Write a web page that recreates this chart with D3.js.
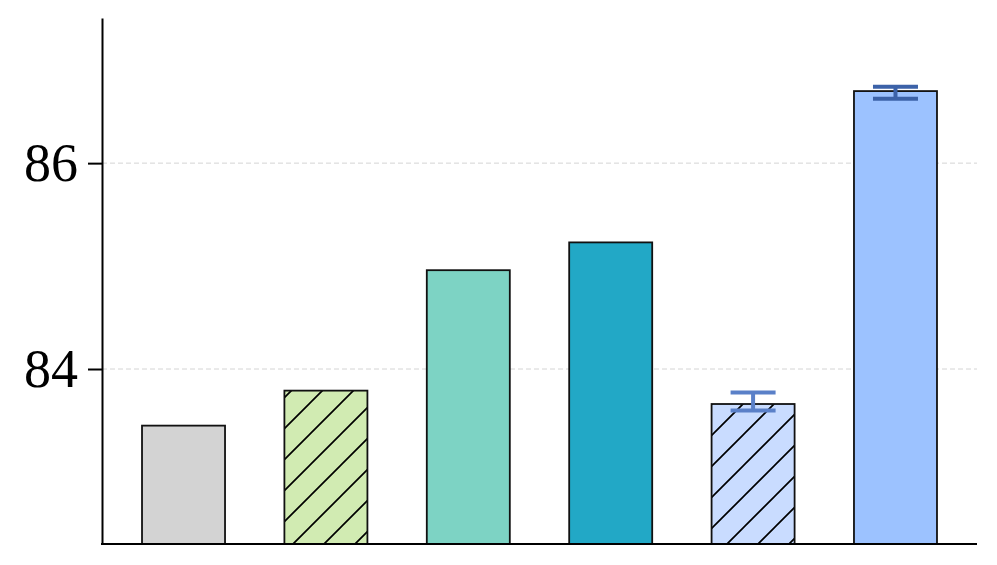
<!DOCTYPE html>
<html>
<head>
<meta charset="utf-8">
<script src="https://cdn.jsdelivr.net/npm/d3@7"></script>
<style>
  body { margin: 0; background: #fff; }
  svg { display: block; }
</style>
</head>
<body>
<div id="vis"></div>
<script>
const width = 997, height = 565;
const margin = { top: 18, right: 20, bottom: 21, left: 102 };

// Chart data
const categories = ["A", "B", "C", "D", "E", "F"];
const values = [83.45, 83.79, 84.96, 85.23, 83.66, 86.70];
const errLow = [null, null, null, null, 83.597, 86.626];
const errHigh = [null, null, null, null, 83.772, 86.743];
const fills = ["#d3d3d3", "#d1ebb2", "#7dd3c4", "#22a8c6", "#c9dcff", "#9cc2ff"];
const hatched = [false, true, false, false, true, false];
const errColors = [null, null, null, null, "#5a80c8", "#3c62a8"];
const yTicks = [84, 86];
const yDomain = [82.30, 87.41];

const svg = d3.select("#vis").append("svg")
  .attr("width", width)
  .attr("height", height);

// Hatch pattern
const defs = svg.append("defs");
defs.append("pattern")
  .attr("id", "hatch")
  .attr("patternUnits", "userSpaceOnUse")
  .attr("width", 31)
  .attr("height", 31)
  .append("path")
  .attr("d", "M-8,8 L8,-8 M0,31 L31,0 M23,39 L39,23")
  .attr("stroke", "#000")
  .attr("stroke-width", 1.7);

const x = d3.scaleBand()
  .domain(categories)
  .range([margin.left, width - margin.right])
  .paddingInner(0.417)
  .paddingOuter(0.281);

const y = d3.scaleLinear()
  .domain(yDomain)
  .range([height - margin.bottom, margin.top]);

// Grid lines
svg.append("g")
  .selectAll("line")
  .data(yTicks)
  .join("line")
  .attr("x1", margin.left)
  .attr("x2", width - margin.right)
  .attr("y1", d => y(d))
  .attr("y2", d => y(d))
  .attr("stroke", "#d4d4d4")
  .attr("stroke-width", 1)
  .attr("stroke-dasharray", "5,3");

const data = categories.map((c, i) => ({
  c, v: values[i], lo: errLow[i], hi: errHigh[i], fill: fills[i], hatch: hatched[i], ec: errColors[i]
}));

const bars = svg.append("g");
const barRect = sel => sel
  .attr("x", d => x(d.c))
  .attr("width", x.bandwidth())
  .attr("y", d => y(d.v))
  .attr("height", d => y(yDomain[0]) - y(d.v));

bars.selectAll("rect.bar")
  .data(data)
  .join("rect")
  .attr("class", "bar")
  .call(barRect)
  .attr("fill", d => d.fill);

bars.selectAll("rect.hatch")
  .data(data.filter(d => d.hatch))
  .join("rect")
  .attr("class", "hatch")
  .call(barRect)
  .attr("fill", "url(#hatch)");

bars.selectAll("rect.outline")
  .data(data)
  .join("rect")
  .attr("class", "outline")
  .call(barRect)
  .attr("fill", "none")
  .attr("stroke", "#111")
  .attr("stroke-width", 1.8);

// Error bars
const err = svg.append("g").selectAll("g")
  .data(data.filter(d => d.lo != null))
  .join("g")
  .attr("stroke", d => d.ec)
  .attr("stroke-width", 4);

const cap = 22.5;
const cx = d => x(d.c) + x.bandwidth() / 2;
err.append("line")
  .attr("x1", cx).attr("x2", cx)
  .attr("y1", d => y(d.lo))
  .attr("y2", d => y(d.hi));
err.append("line")
  .attr("x1", d => cx(d) - cap)
  .attr("x2", d => cx(d) + cap)
  .attr("y1", d => y(d.hi))
  .attr("y2", d => y(d.hi));
err.append("line")
  .attr("x1", d => cx(d) - cap)
  .attr("x2", d => cx(d) + cap)
  .attr("y1", d => y(d.lo))
  .attr("y2", d => y(d.lo));

// Axes
const yAxis = d3.axisLeft(y)
  .tickValues(yTicks)
  .tickSize(14)
  .tickSizeOuter(0)
  .tickPadding(10)
  .tickFormat(d3.format("d"));
const gy = svg.append("g")
  .attr("transform", `translate(${margin.left},0)`)
  .call(yAxis);
gy.select(".domain").attr("stroke", "#000").attr("stroke-width", 2);
gy.selectAll(".tick line").attr("stroke", "#000").attr("stroke-width", 2);
gy.selectAll(".tick text")
  .attr("fill", "#000")
  .style("font-family", "'Liberation Serif', 'Times New Roman', serif")
  .style("font-size", "54px");

svg.append("line")
  .attr("x1", margin.left - 1)
  .attr("x2", width - margin.right)
  .attr("y1", y(yDomain[0]))
  .attr("y2", y(yDomain[0]))
  .attr("stroke", "#000")
  .attr("stroke-width", 2);
</script>
</body>
</html>
